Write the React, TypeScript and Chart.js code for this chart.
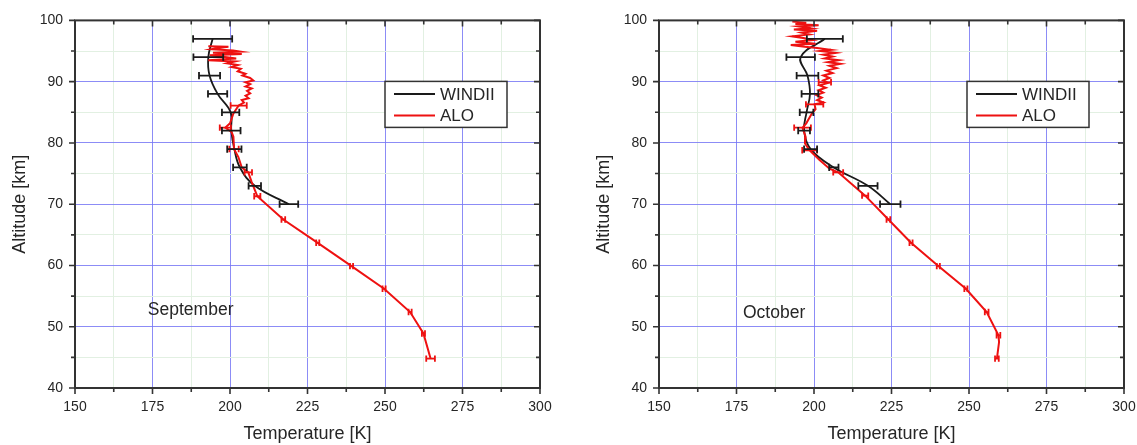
import React, { useEffect, useRef } from 'react';
import { Chart, registerables } from 'chart.js';

Chart.register(...registerables);

// ---------- axis ticks ----------
const xMajorTicks = [150, 175, 200, 225, 250, 275, 300];
const yMajorTicks = [40, 50, 60, 70, 80, 90, 100];
const xMinorStep = 12.5;
const yMinorStep = 5;

// ---------- September ----------
const sepWindiiAlt = [97, 94, 91, 88, 85, 82, 79, 76, 73, 70];
const sepWindiiTemp = [194.4, 193.0, 193.4, 196.0, 200.2, 200.4, 201.4, 203.2, 208.0, 219.0];
const sepWindiiErr = [6.3, 4.8, 3.4, 3.1, 2.8, 3.0, 2.3, 2.2, 2.0, 3.0];

const sepAloAlt = [95.8, 95.7, 95.5, 95.3, 95.1, 94.9, 94.7, 94.5, 94.3, 94.0, 93.8, 93.5, 93.3, 93.0, 92.7, 92.4, 92.1, 91.7, 91.3, 91.0, 90.6, 90.2, 89.9, 89.6, 89.2, 88.9, 88.5, 88.1, 87.7, 87.3, 87.0, 86.6, 86.1, 84.8, 83.2, 82.5, 81.8, 81.0, 79.0, 77.7, 76.0, 75.2, 73.6, 71.3, 67.5, 63.7, 59.9, 56.2, 52.4, 48.9, 44.8];
const sepAloTemp = [193.0, 199.5, 196.0, 194.0, 201.0, 203.5, 194.5, 203.8, 193.5, 199.0, 202.0, 193.0, 201.6, 199.0, 202.5, 200.5, 203.5, 202.5, 205.0, 204.0, 206.5, 207.5, 205.0, 206.5, 205.0, 207.0, 205.5, 206.5, 205.0, 206.0, 203.8, 204.5, 202.8, 201.1, 200.0, 198.5, 200.5, 201.1, 201.3, 202.7, 203.8, 205.9, 207.0, 208.8, 217.2, 228.3, 239.2, 249.7, 258.1, 262.4, 264.7];
const sepAloBarAlt = [86.1, 82.5, 79.0, 75.2, 71.3, 67.5, 63.7, 59.9, 56.2, 52.4, 48.9, 44.8];
const sepAloBarTemp = [202.8, 198.5, 201.3, 205.9, 208.8, 217.2, 228.3, 239.2, 249.7, 258.1, 262.4, 264.7];
const sepAloBarErr = [2.6, 1.8, 1.5, 1.2, 1.0, 0.6, 0.5, 0.5, 0.5, 0.5, 0.5, 1.4];

// ---------- October ----------
const octWindiiAlt = [97, 94, 91, 88, 85, 82, 79, 76, 73, 70];
const octWindiiTemp = [203.5, 195.7, 197.9, 198.7, 197.6, 196.8, 198.9, 206.4, 217.4, 224.6];
const octWindiiErr = [5.8, 4.6, 3.5, 2.7, 2.2, 1.9, 2.1, 1.5, 3.1, 3.3];

const octAloAlt = [99.8, 99.6, 99.4, 99.2, 99.0, 98.7, 98.5, 98.3, 98.0, 97.7, 97.4, 97.1, 96.8, 96.5, 96.2, 96.0, 95.7, 95.5, 95.2, 95.0, 94.7, 94.4, 94.1, 93.8, 93.5, 93.2, 92.9, 92.6, 92.2, 91.8, 91.4, 91.0, 90.6, 90.2, 89.8, 89.4, 89.0, 88.6, 88.2, 87.8, 87.4, 87.0, 86.6, 86.3, 85.5, 84.8, 83.2, 82.5, 81.0, 79.9, 78.8, 77.2, 75.8, 75.2, 71.4, 67.5, 63.7, 59.9, 56.2, 52.4, 48.6, 47.5, 44.8];
const octAloTemp = [193.0, 197.5, 194.0, 201.5, 195.0, 199.0, 193.5, 201.0, 196.0, 198.5, 193.0, 197.0, 199.5, 194.0, 200.5, 192.5, 197.0, 201.0, 205.5, 202.0, 207.0, 203.0, 206.0, 203.5, 208.0, 204.5, 208.5, 205.0, 207.3, 204.0, 206.0, 203.0, 205.0, 203.0, 204.5, 201.8, 203.8, 201.5, 203.0, 200.8, 202.5, 201.0, 203.0, 200.2, 200.5, 199.3, 197.5, 196.3, 197.3, 197.1, 198.6, 201.8, 205.0, 207.8, 216.5, 224.0, 231.3, 240.1, 249.0, 255.7, 259.5, 259.7, 259.0];
const octAloBarAlt = [89.9, 86.3, 82.5, 78.8, 75.2, 71.4, 67.5, 63.7, 59.9, 56.2, 52.4, 48.6, 44.8];
const octAloBarTemp = [203.5, 200.2, 196.3, 198.6, 207.8, 216.5, 224.0, 231.3, 240.1, 249.0, 255.7, 259.5, 259.0];
const octAloBarErr = [2.0, 2.8, 2.7, 2.4, 1.6, 1.0, 0.6, 0.5, 0.5, 0.5, 0.6, 0.6, 0.6];

// ---------- labels ----------
const legendLabels = ['WINDII', 'ALO'];
const xTitle = 'Temperature [K]';
const yTitle = 'Altitude [km]';

const FONT = '"Liberation Sans", Arial, Helvetica, sans-serif';
const TEXT = '#262626';
const BLACK = '#1a1a1a';
const RED = '#ee1111';
const MAJOR_GRID = 'rgba(120,120,245,0.85)';
const MINOR_GRID = '#e2f0e2';

const toPoints = (xs: number[], ys: number[]) => xs.map((x, i) => ({ x, y: ys[i] }));

const errorBarPlugin = {
  id: 'errorBars',
  afterDatasetsDraw(chart: any) {
    const { ctx, scales } = chart;
    const xs = scales.x;
    const ys = scales.y;
    chart.data.datasets.forEach((ds: any) => {
      if (!ds.errX) return;
      ctx.save();
      ctx.strokeStyle = ds.barColor;
      ctx.lineWidth = ds.barWidth;
      ds.data.forEach((p: any, i: number) => {
        const e = ds.errX[i];
        const py = ys.getPixelForValue(p.y);
        const x1 = xs.getPixelForValue(p.x - e);
        const x2 = xs.getPixelForValue(p.x + e);
        const c = ds.capHalf;
        ctx.beginPath();
        ctx.moveTo(x1, py);
        ctx.lineTo(x2, py);
        ctx.moveTo(x1, py - c);
        ctx.lineTo(x1, py + c);
        ctx.moveTo(x2, py - c);
        ctx.lineTo(x2, py + c);
        ctx.stroke();
      });
      ctx.restore();
    });
  },
};

const framePlugin = {
  id: 'frameTicks',
  afterDatasetsDraw(chart: any) {
    const { ctx, chartArea, scales } = chart;
    const { left, right, top, bottom } = chartArea;
    ctx.save();
    ctx.strokeStyle = '#333333';
    ctx.lineWidth = 1.6;
    scales.x.ticks.forEach((t: any) => {
      const px = scales.x.getPixelForValue(t.value);
      const major = xMajorTicks.includes(t.value);
      const len = major ? 6 : 4;
      ctx.beginPath();
      ctx.moveTo(px, bottom);
      ctx.lineTo(px, bottom + len);
      ctx.moveTo(px, top);
      ctx.lineTo(px, top + len);
      ctx.stroke();
    });
    scales.y.ticks.forEach((t: any) => {
      const py = scales.y.getPixelForValue(t.value);
      const major = yMajorTicks.includes(t.value);
      const len = major ? 6 : 4;
      ctx.beginPath();
      ctx.moveTo(left - len, py);
      ctx.lineTo(left, py);
      ctx.moveTo(right, py);
      ctx.lineTo(right - len, py);
      ctx.stroke();
    });
    ctx.lineWidth = 2;
    ctx.strokeRect(left, top, right - left, bottom - top);
    ctx.restore();
  },
};

const boxLegendPlugin = {
  id: 'boxLegend',
  afterDraw(chart: any, _args: any, opts: any) {
    const { ctx, chartArea, scales } = chart;
    ctx.save();
    const bx = chartArea.left + opts.dx;
    const by = chartArea.top + opts.dy;
    ctx.fillStyle = '#ffffff';
    ctx.fillRect(bx, by, 122, 46);
    ctx.strokeStyle = '#333333';
    ctx.lineWidth = 1.5;
    ctx.strokeRect(bx, by, 122, 46);
    const colors = [BLACK, RED];
    ctx.font = `17px ${FONT}`;
    ctx.textBaseline = 'middle';
    ctx.textAlign = 'left';
    legendLabels.forEach((lab, i) => {
      const ly = by + 12.5 + i * 21.5;
      ctx.strokeStyle = colors[i];
      ctx.lineWidth = 2;
      ctx.beginPath();
      ctx.moveTo(bx + 9, ly);
      ctx.lineTo(bx + 50, ly);
      ctx.stroke();
      ctx.fillStyle = TEXT;
      ctx.fillText(lab, bx + 55, ly + 1);
    });
    ctx.font = `17.5px ${FONT}`;
    ctx.fillStyle = TEXT;
    ctx.fillText(opts.label, scales.x.getPixelForValue(opts.labelT), scales.y.getPixelForValue(opts.labelAlt));
    ctx.restore();
  },
};

type PanelProps = {
  windiiAlt: number[];
  windiiTemp: number[];
  windiiErr: number[];
  aloAlt: number[];
  aloTemp: number[];
  aloBarAlt: number[];
  aloBarTemp: number[];
  aloBarErr: number[];
  label: string;
  labelT: number;
  labelAlt: number;
  legendDx: number;
  left: number;
};

function Panel(p: PanelProps) {
  const ref = useRef<HTMLCanvasElement | null>(null);
  useEffect(() => {
    if (!ref.current) return;
    const chart = new Chart(ref.current, {
      type: 'scatter',
      data: {
        datasets: [
          {
            label: 'ALO',
            data: toPoints(p.aloTemp, p.aloAlt),
            showLine: true,
            borderColor: RED,
            backgroundColor: RED,
            borderWidth: 2,
            pointRadius: 0,
            tension: 0,
          } as any,
          {
            label: 'ALO err',
            data: toPoints(p.aloBarTemp, p.aloBarAlt),
            showLine: false,
            pointRadius: 0,
            errX: p.aloBarErr,
            barColor: RED,
            barWidth: 1.8,
            capHalf: 3.2,
          } as any,
          {
            label: 'WINDII',
            data: toPoints(p.windiiTemp, p.windiiAlt),
            showLine: true,
            borderColor: BLACK,
            backgroundColor: BLACK,
            borderWidth: 1.8,
            pointRadius: 0,
            tension: 0.4,
          } as any,
          {
            label: 'WINDII err',
            data: toPoints(p.windiiTemp, p.windiiAlt),
            showLine: false,
            pointRadius: 0,
            errX: p.windiiErr,
            barColor: BLACK,
            barWidth: 1.8,
            capHalf: 3.6,
          } as any,
        ],
      },
      options: {
        animation: false,
        responsive: false,
        events: [],
        layout: { padding: { top: 20, right: 30, left: 0, bottom: 0 } },
        plugins: {
          legend: { display: false },
          tooltip: { enabled: false },
          boxLegend: { dx: p.legendDx, dy: 61, label: p.label, labelT: p.labelT, labelAlt: p.labelAlt },
        } as any,
        scales: {
          x: {
            type: 'linear',
            position: 'bottom',
            min: 150,
            max: 300,
            afterFit: (s: any) => { s.height = 57; },
            ticks: {
              stepSize: xMinorStep,
              autoSkip: false,
              maxRotation: 0,
              padding: 11,
              color: TEXT,
              font: { family: FONT, size: 14 },
              callback: (v: any) => (xMajorTicks.includes(Number(v)) ? String(v) : ''),
            },
            grid: {
              drawTicks: false,
              lineWidth: 1,
              color: (c: any) => (xMajorTicks.includes(c.tick?.value) ? MAJOR_GRID : MINOR_GRID),
            },
            border: { display: false },
            title: {
              display: true,
              text: xTitle,
              color: TEXT,
              padding: { top: 0, bottom: 0 },
              font: { family: FONT, size: 18, lineHeight: 1.2 },
            },
          },
          y: {
            type: 'linear',
            position: 'left',
            min: 40,
            max: 100,
            afterFit: (s: any) => { s.width = 75; },
            ticks: {
              stepSize: yMinorStep,
              autoSkip: false,
              padding: 12,
              color: TEXT,
              font: { family: FONT, size: 14 },
              callback: (v: any) => (yMajorTicks.includes(Number(v)) ? String(v) : ''),
            },
            grid: {
              drawTicks: false,
              lineWidth: 1,
              color: (c: any) => (yMajorTicks.includes(c.tick?.value) ? MAJOR_GRID : MINOR_GRID),
            },
            border: { display: false },
            title: {
              display: true,
              text: yTitle,
              color: TEXT,
              padding: { top: 9, bottom: 0 },
              font: { family: FONT, size: 18, lineHeight: 1.2 },
            },
          },
        },
      } as any,
      plugins: [errorBarPlugin, framePlugin, boxLegendPlugin],
    });
    return () => chart.destroy();
  }, []);
  return (
    <div style={{ position: 'absolute', left: p.left, top: 0, width: 570, height: 445 }}>
      <canvas ref={ref} width={570} height={445} style={{ display: 'block', width: 570, height: 445 }} />
    </div>
  );
}

export default function App() {
  return (
    <div style={{ position: 'fixed', left: 0, top: 0, width: 1137, height: 445, overflow: 'hidden', background: '#ffffff' }}>
      <Panel
        left={0}
        windiiAlt={sepWindiiAlt}
        windiiTemp={sepWindiiTemp}
        windiiErr={sepWindiiErr}
        aloAlt={sepAloAlt}
        aloTemp={sepAloTemp}
        aloBarAlt={sepAloBarAlt}
        aloBarTemp={sepAloBarTemp}
        aloBarErr={sepAloBarErr}
        label="September"
        labelT={173.5}
        labelAlt={52.7}
        legendDx={310}
      />
      <Panel
        left={584}
        windiiAlt={octWindiiAlt}
        windiiTemp={octWindiiTemp}
        windiiErr={octWindiiErr}
        aloAlt={octAloAlt}
        aloTemp={octAloTemp}
        aloBarAlt={octAloBarAlt}
        aloBarTemp={octAloBarTemp}
        aloBarErr={octAloBarErr}
        label="October"
        labelT={177.1}
        labelAlt={52.2}
        legendDx={308}
      />
    </div>
  );
}
